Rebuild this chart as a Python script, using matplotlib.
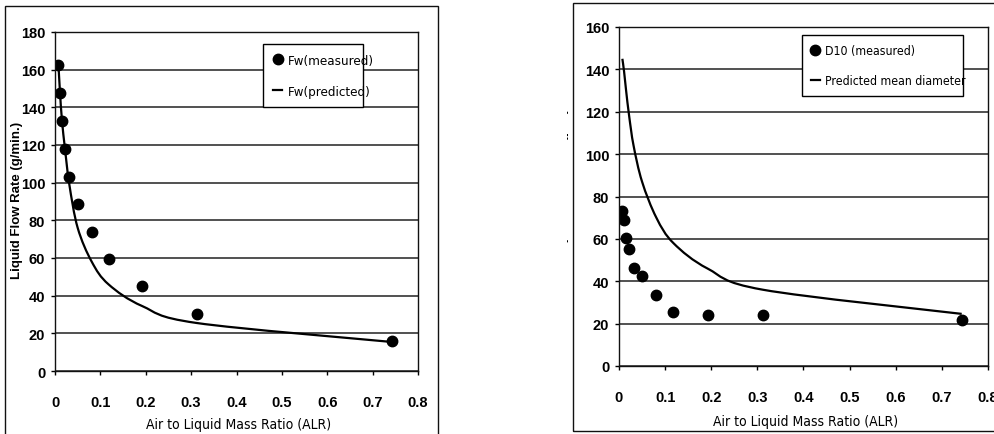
import numpy as np
import matplotlib
matplotlib.use("Agg")
import matplotlib.pyplot as plt
from matplotlib.patches import Rectangle, PathPatch
from matplotlib.path import Path
from matplotlib.transforms import Bbox, TransformedBbox

# air to liquid mass ratio (same runs for both panels)
alr = [0.0073, 0.011, 0.0154, 0.022, 0.0316, 0.050, 0.081, 0.118, 0.192, 0.312, 0.743]

# left panel: liquid flow rate (g/min)
fw_measured = [162.5, 147.5, 132.5, 118, 103, 88.5, 74, 59.5, 45, 30.3, 16.1]
fw_predicted = [164, 148, 133, 118, 99, 76, 58, 46, 34.5, 25.5, 15.4]

# right panel: mean droplet diameter
d10_measured = [73, 69, 60.6, 55, 46.3, 42.3, 33.3, 25.4, 24.1, 24.3, 21.9]
d10_predicted = [145, 139, 130, 118, 104, 87, 70, 58, 46, 36, 24.6]

x_ticks = [0, 0.1, 0.2, 0.3, 0.4, 0.5, 0.6, 0.7, 0.8]
x_ticklabels = ["0", "0.1", "0.2", "0.3", "0.4", "0.5", "0.6", "0.7", "0.8"]

W, H = 995, 435
cond = {"family": "DejaVu Sans", "stretch": "condensed"}
plain = ["Liberation Sans", "DejaVu Sans"]


def px_rect(x0, y0, x1, y1):
    # pixel box (top-left origin) -> figure fraction [left, bottom, w, h]
    return [x0 / W, 1 - y1 / H, (x1 - x0) / W, (y1 - y0) / H]


def smooth_line(ax, xs, ys, **kw):
    # Excel style smoothed line: cubic bezier segments through the points
    p = np.column_stack([xs, ys])
    n = len(p)
    verts = [p[0]]
    codes = [Path.MOVETO]
    for i in range(n - 1):
        a = p[i - 1] if i > 0 else p[i]
        d = p[i + 2] if i + 2 < n else p[i + 1]
        c1 = p[i] + (p[i + 1] - a) / 6
        c2 = p[i + 1] - (d - p[i]) / 6
        verts += [c1, c2, p[i + 1]]
        codes += [Path.CURVE4] * 3
    ax.add_patch(PathPatch(Path(verts, codes), fill=False, **kw))
    # empty proxy for the legend
    return ax.plot([], [], color=kw.get("ec", "black"), lw=kw.get("lw", 1.5))[0]


def style_axes(ax, ymax):
    ax.set_xlim(0, 0.8)
    ax.set_ylim(0, ymax)
    ax.set_xticks(x_ticks)
    ax.set_xticklabels(x_ticklabels)
    ax.set_yticks(np.arange(0, ymax + 1, 20))
    ax.yaxis.grid(True, color="#222222", lw=1.1)
    ax.set_axisbelow(True)
    for s in ax.spines.values():
        s.set_color("#111111")
        s.set_linewidth(1.0)
    ax.tick_params(direction="out", length=3, width=1, colors="black")
    ax.tick_params(axis="x", pad=14)
    ax.tick_params(axis="y", pad=4)
    for lab in ax.get_xticklabels() + ax.get_yticklabels():
        lab.set_fontfamily(plain)
        lab.set_fontweight("bold")
        lab.set_fontsize(10.5)


fig = plt.figure(figsize=(W / 100, H / 100), dpi=100)

# outer chart frames
fig.patches.append(Rectangle((5 / W, -0.05), 433 / W, 1.05 - 7 / H,
                             transform=fig.transFigure, fill=False,
                             ec="#111111", lw=1.0))
fig.patches.append(Rectangle((573 / W, 1 - 432 / H), 0.5, 428 / H,
                             transform=fig.transFigure, fill=False,
                             ec="#111111", lw=1.0))

leg_kw = dict(loc="upper left", mode="expand", fancybox=False,
              edgecolor="black", framealpha=1, handlelength=0.7,
              handletextpad=0.45, borderpad=0.75, borderaxespad=0,
              labelspacing=1.35)

# ---- left panel
ax1 = fig.add_axes(px_rect(55, 33, 418, 372))
ln1 = smooth_line(ax1, alr, fw_predicted, ec="black", lw=1.6)
pt1, = ax1.plot(alr, fw_measured, "o", color="black", ms=7.5)
style_axes(ax1, 180)
leg1 = ax1.legend([pt1, ln1], ["Fw(measured)", "Fw(predicted)"],
                  bbox_to_anchor=(0.573, 0.965, 0.275, 0),
                  prop=dict(cond, size=9.5), **leg_kw)
leg1.get_frame().set_linewidth(1.0)
fig.text(239 / W, 1 - 425 / H, "Air to Liquid Mass Ratio (ALR)",
         ha="center", va="center", fontsize=10, **cond)
fig.text(17 / W, 1 - 200 / H, "Liquid Flow Rate (g/min.)", rotation=90,
         ha="center", va="center", family=plain, fontweight="bold", fontsize=9.5)

# ---- right panel
ax2 = fig.add_axes(px_rect(619, 28, 988, 367))
ln2 = smooth_line(ax2, alr, d10_predicted, ec="black", lw=1.6)
pt2, = ax2.plot(alr, d10_measured, "o", color="black", ms=7.5)
style_axes(ax2, 160)
leg2 = ax2.legend([pt2, ln2], ["D10 (measured)", "Predicted mean diameter"],
                  bbox_to_anchor=(0.496, 0.976, 0.436, 0),
                  prop=dict(cond, size=8.8), **leg_kw)
leg2.get_frame().set_linewidth(1.0)
fig.text(806 / W, 1 - 422 / H, "Air to Liquid Mass Ratio (ALR)",
         ha="center", va="center", fontsize=10, **cond)

# y label of the right chart is cut off in the original, only a sliver shows
ylab = fig.text(562 / W, 1 - 210 / H, "Mean Droplet Diameter (\u03bcm)", rotation=90,
                ha="center", va="center", family=plain, fontweight="bold",
                fontsize=11, clip_on=True)
ylab.set_clip_box(TransformedBbox(Bbox.from_extents(567 / W, 0, 580 / W, 1),
                                  fig.transFigure))

fig.savefig("out.png", dpi=100)
